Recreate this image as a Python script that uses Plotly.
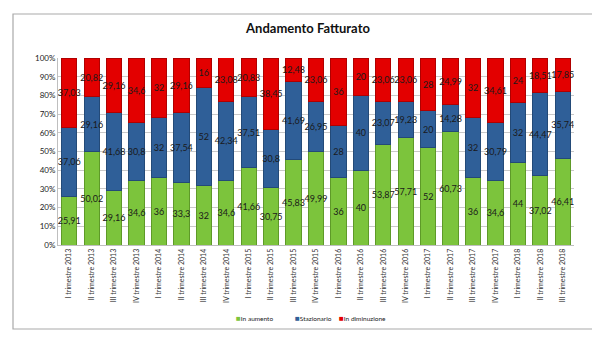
import plotly.graph_objects as go

categories = [
    "I trimestre 2013", "II trimestre 2013", "III trimestre 2013", "IV trimestre 2013",
    "I trimestre 2014", "II trimestre 2014", "III trimestre 2014", "IV trimestre 2014",
    "I trimestre 2015", "II trimestre 2015", "III trimestre 2015", "IV trimestre 2015",
    "I trimestre 2016", "II trimestre 2016", "III trimestre 2016", "IV trimestre 2016",
    "I trimestre 2017", "II trimestre 2017", "III trimestre 2017", "IV trimestre 2017",
    "I trimestre 2018", "II trimestre 2018", "III trimestre 2018",
]
in_aumento = [25.91, 50.02, 29.16, 34.6, 36, 33.3, 32, 34.6, 41.66, 30.75, 45.83, 49.99,
              36, 40, 53.87, 57.71, 52, 60.73, 36, 34.6, 44, 37.02, 46.41]
stazionario = [37.06, 29.16, 41.68, 30.8, 32, 37.54, 52, 42.34, 37.51, 30.8, 41.69, 26.95,
               28, 40, 23.07, 19.23, 20, 14.28, 32, 30.79, 32, 44.47, 35.74]
in_diminuzione = [37.03, 20.82, 29.16, 34.6, 32, 29.16, 16, 23.08, 20.83, 38.45, 12.48, 23.06,
                  36, 20, 23.06, 23.06, 28, 24.99, 32, 34.61, 24, 18.51, 17.85]
y_ticks = [0, 10, 20, 30, 40, 50, 60, 70, 80, 90, 100]
y_tick_labels = [f"{v}%" for v in y_ticks]

series = [
    ("In aumento", in_aumento, "#7cc43c", "#5e9a28"),
    ("Stazionario", stazionario, "#2f5f98", "#234a78"),
    ("In diminuzione", in_diminuzione, "#e30000", "#b00000"),
]

FONT = "Lato, Liberation Sans, sans-serif"

def fmt(v):
    return ("%g" % v).replace(".", ",")

fig = go.Figure()
for name, vals, col, edge in series:
    fig.add_trace(go.Bar(
        x=categories, y=vals, name=name,
        marker=dict(color=col, line=dict(color=edge, width=1)),
        text=[fmt(v) for v in vals],
        textposition="inside", insidetextanchor="middle", textangle=0,
        constraintext="none",
        textfont=dict(family=FONT, size=9, color="#1a1a1a"),
        hoverinfo="x+y+name",
        showlegend=False,
    ))

# pixel geometry helpers (plot area: x 50..566, y 50..237)
L, R, T, B = 50, 34, 50, 123
W, H = 600, 360
pw, ph = W - L - R, H - T - B
def px(x):
    return (x - L) / pw
def py(y):
    return (H - B - y) / ph

legend_items = [
    ("In aumento", "#7cc43c", 226),
    ("Stazionario", "#2f5f98", 285),
    ("In diminuzione", "#e30000", 329),
]
annotations = []
for label, col, xpos in legend_items:
    annotations.append(dict(
        xref="paper", yref="paper", x=px(xpos), y=py(310), xanchor="left", yanchor="middle",
        showarrow=False,
        text=f"<span style='color:{col};font-size:8px'>■</span>{label}",
        font=dict(family=FONT, size=6.5, color="#222"),
    ))

fig.update_layout(
    barmode="stack",
    bargap=0.32,
    width=W, height=H,
    margin=dict(l=L, r=R, t=T, b=B),
    paper_bgcolor="white", plot_bgcolor="white",
    title=dict(text="<b>Andamento Fatturato</b>", x=0.5, xanchor="center", y=1 - 20 / H, yanchor="middle",
               font=dict(family=FONT, size=13, color="#111")),
    font=dict(family=FONT, size=8, color="#222"),
    showlegend=False,
    annotations=annotations,
    shapes=[dict(type="rect", xref="paper", yref="paper", x0=px(5), x1=px(592), y0=py(321), y1=py(6),
                 line=dict(color="#a9a9a9", width=1.2), layer="below")],
)
fig.update_xaxes(tickangle=-90, showgrid=False, showline=True, linecolor="#bfbfbf",
                 tickfont=dict(size=7, color="#333"), ticks="")
fig.update_yaxes(range=[0, 100], tickvals=y_ticks, ticktext=y_tick_labels, showgrid=True,
                 gridcolor="#c9c9c9", gridwidth=1, showline=True, linecolor="#bfbfbf",
                 tickfont=dict(size=8, color="#222"), zeroline=False, ticks="")

fig.write_html("out.html")
